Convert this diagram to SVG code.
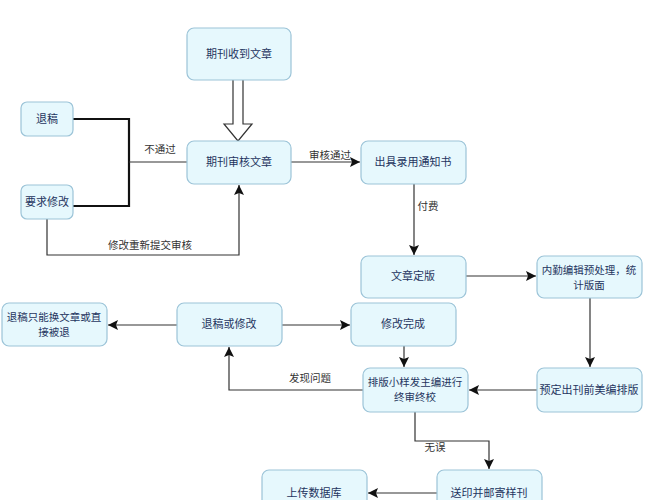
<svg xmlns="http://www.w3.org/2000/svg" width="664" height="500" viewBox="0 0 664 500">
<defs>
<style>
.n rect{fill:#e6f8fd;stroke:#9cc4d8;stroke-width:1.2}
.n text{font-family:"Noto Sans CJK SC","Liberation Sans",sans-serif;font-size:11px;fill:#1f3560;text-anchor:middle}
.n text.s{font-size:10.5px}
.c path{fill:none;stroke:#333;stroke-width:1.2}
.c .b{stroke:#111;stroke-width:2.2}
.l{font-family:"Noto Sans CJK SC","Liberation Sans",sans-serif;font-size:10.5px;fill:#333;text-anchor:middle}
</style>
<marker id="a" viewBox="0 0 10 10" refX="10" refY="5" markerWidth="10" markerHeight="10" markerUnits="userSpaceOnUse" orient="auto">
<path d="M0,0 L10,5 L0,10 L2,5 Z" fill="#111"/>
</marker>
</defs>
<rect width="664" height="500" fill="#fff"/>
<g class="c">
<path d="M233,80 V124 H224 L238,141 L252,124 H243 V80" style="fill:#fff;stroke:#333;stroke-width:1.2"/>
<path class="b" d="M73,119 H129 V206 H73"/>
<path d="M129,162 H187"/>
<path d="M47,219 V255 H239 V185" marker-end="url(#a)"/>
<path d="M291,162 H360" marker-end="url(#a)"/>
<path d="M414,184 V255" marker-end="url(#a)"/>
<path d="M466,276 H536" marker-end="url(#a)"/>
<path d="M590,298 V367" marker-end="url(#a)"/>
<path d="M537,390 H469" marker-end="url(#a)"/>
<path d="M404,346 V367" marker-end="url(#a)"/>
<path d="M363,390 H229 V347" marker-end="url(#a)"/>
<path d="M282,325 H350" marker-end="url(#a)"/>
<path d="M177,325 H108" marker-end="url(#a)"/>
<path d="M415,412 V441 H489 V469" marker-end="url(#a)"/>
<path d="M437,493 H368" marker-end="url(#a)"/>
</g>
<text class="l" x="160" y="153">不通过</text>
<text class="l" x="150" y="249">修改重新提交审核</text>
<text class="l" x="330" y="159">审核通过</text>
<text class="l" x="428" y="210">付费</text>
<text class="l" x="310" y="382">发现问题</text>
<text class="l" x="435" y="451">无误</text>
<g id="n1" class="n"><rect x="187" y="28" width="104" height="52" rx="7"/><text x="239" y="58">期刊收到文章</text></g>
<g id="n2" class="n"><rect x="187" y="141" width="104" height="43" rx="7"/><text x="239" y="166">期刊审核文章</text></g>
<g id="n3" class="n"><rect x="21" y="102" width="52" height="34" rx="6"/><text x="47" y="123">退稿</text></g>
<g id="n4" class="n"><rect x="21" y="185" width="52" height="34" rx="6"/><text x="47" y="206">要求修改</text></g>
<g id="n5" class="n"><rect x="361" y="141" width="105" height="43" rx="7"/><text x="413" y="166">出具录用通知书</text></g>
<g id="n6" class="n"><rect x="361" y="256" width="105" height="42" rx="7"/><text x="413" y="280">文章定版</text></g>
<g id="n7" class="n"><rect x="537" y="256" width="105" height="42" rx="7"/><text class="s" x="589" y="274">内勤编辑预处理，统</text><text class="s" x="589" y="289">计版面</text></g>
<g id="n8" class="n"><rect x="351" y="303" width="105" height="43" rx="7"/><text x="403" y="328">修改完成</text></g>
<g id="n9" class="n"><rect x="177" y="303" width="105" height="43" rx="7"/><text x="229" y="328">退稿或修改</text></g>
<g id="n10" class="n"><rect x="2" y="303" width="105" height="43" rx="7"/><text class="s" x="54" y="321">退稿只能换文章或直</text><text class="s" x="54" y="336">接被退</text></g>
<g id="n11" class="n"><rect x="363" y="368" width="105" height="44" rx="7"/><text class="s" x="415" y="386">排版小样发主编进行</text><text class="s" x="415" y="401">终审终校</text></g>
<g id="n12" class="n"><rect x="537" y="368" width="105" height="44" rx="7"/><text x="589" y="394">预定出刊前美编排版</text></g>
<g id="n13" class="n"><rect x="437" y="470" width="105" height="44" rx="7"/><text x="489" y="497">送印并邮寄样刊</text></g>
<g id="n14" class="n"><rect x="262" y="470" width="105" height="44" rx="7"/><text x="314" y="497">上传数据库</text></g>
</svg>
